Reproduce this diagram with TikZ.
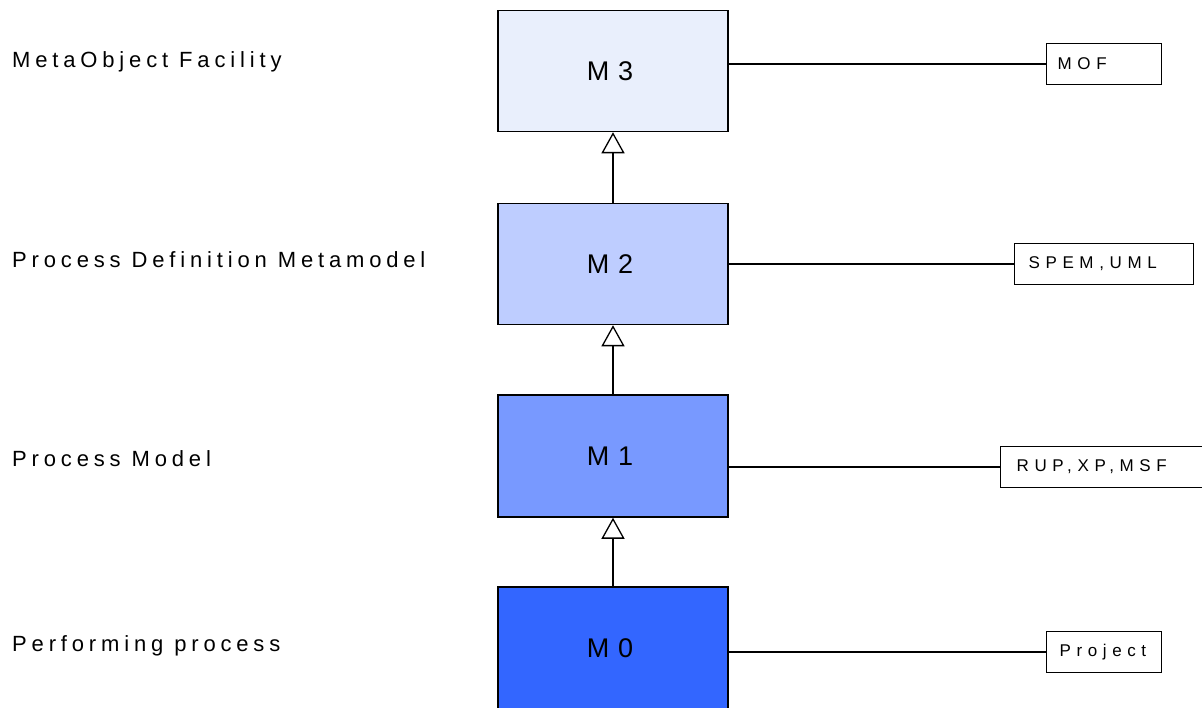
\documentclass[tikz,border=0pt]{standalone}
\usepackage{fontspec}
\setmainfont{Liberation Sans}
\usetikzlibrary{arrows.meta}
\definecolor{cMthree}{RGB}{233,239,252}
\definecolor{cMtwo}{RGB}{190,205,255}
\definecolor{cMone}{RGB}{120,153,255}
\definecolor{cMzero}{RGB}{51,102,255}
\begin{document}
\begin{tikzpicture}[x=1pt,y=-1pt,
  levelfont/.style={font=\fontsize{27}{30}\selectfont\addfontfeature{LetterSpace=32}},
  level/.style={draw=black, line width=1.5pt, minimum width=230pt, minimum height=121pt, inner sep=0pt, levelfont},
  layer/.style={anchor=base west, inner sep=0pt, font=\fontsize{22}{26}\selectfont\addfontfeature{LetterSpace=22}},
  rbox/.style={draw=black, line width=1.3pt, fill=white, anchor=west, minimum height=41pt, align=left,
    inner ysep=0pt, font=\fontsize{17}{20}\selectfont\addfontfeature{LetterSpace=33}},
  conn/.style={draw=black, line width=1.3pt},
  gen/.style={draw=black, line width=1.3pt, -{Triangle[length=21pt,width=23pt,fill=white,line width=1.3pt]}}
]
\clip (0,0) rectangle (1202,707);
\fill[white] (0,0) rectangle (1202,707);

% level boxes
\node[level, fill=cMthree] (M3) at (613,71) {M3\kern6pt};
\node[level, fill=cMtwo]   (M2) at (613,264) {M2\kern6pt};
\node[level, fill=cMone, minimum height=122pt] (M1) at (613,456) {M1\kern6pt};
\node[level, fill=cMzero, minimum height=130pt] (M0) at (613,652) {};
\node[levelfont] (M0t) at (610,648) {M0};

% generalization arrows
\draw[gen] (M2.north) -- (M3.south);
\draw[gen] (M1.north) -- (M2.south);
\draw[gen] (M0.north) -- (M1.south);

% left labels
\node[layer] (L3) at (12,67) {MetaObject Facility};
\node[layer] (L2) at (12,267) {Process Definition Metamodel};
\node[layer] (L1) at (12,466) {Process Model};
\node[layer] (L0) at (12,651) {Performing process};

% right boxes
\node[rbox, minimum width=115pt, text width=93pt, inner xsep=11pt] (mof) at (1046,64) {MOF};
\node[rbox, minimum width=179pt, text width=151pt, inner xsep=14pt] (spem) at (1014,264) {SPEM, UML};
\node[rbox, minimum width=215pt, text width=183pt, inner xsep=16pt] (rup) at (1000,467) {RUP, XP, MSF};
\node[rbox, minimum width=115pt, text width=89pt, inner xsep=13pt] (proj) at (1046,652) {Project};

% connectors
\draw[conn] (M3.east |- mof.west) -- (mof.west);
\draw[conn] (M2.east |- spem.west) -- (spem.west);
\draw[conn] (M1.east |- rup.west) -- (rup.west);
\draw[conn] (M0.east |- proj.west) -- (proj.west);
\end{tikzpicture}
\end{document}
